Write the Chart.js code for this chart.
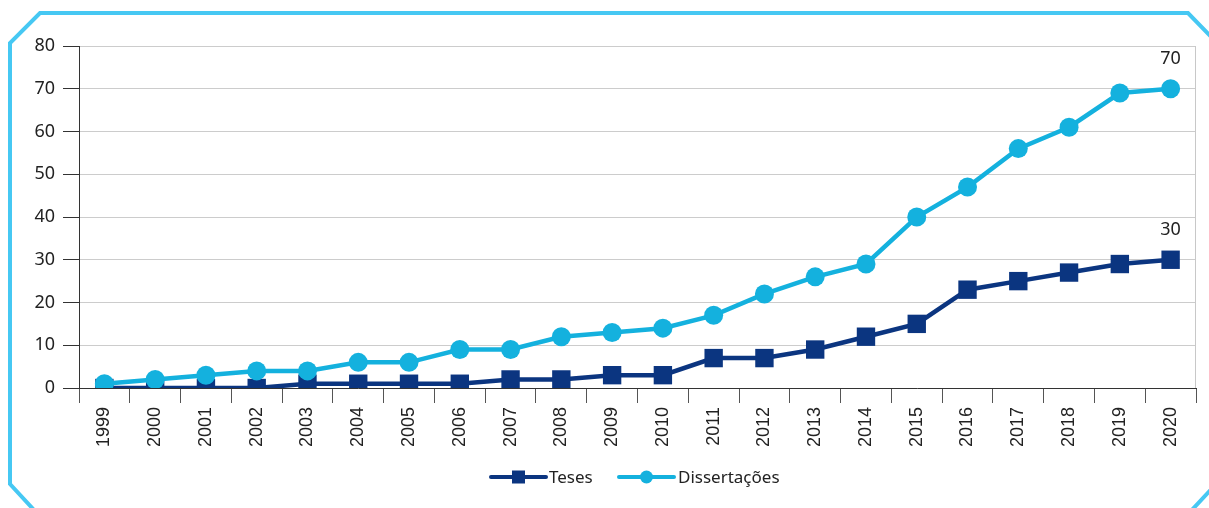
<!DOCTYPE html>
<html>
<head>
<meta charset="utf-8">
<script src="https://cdn.jsdelivr.net/npm/chart.js@4.4.1/dist/chart.umd.min.js"></script>
<style>
html,body{margin:0;padding:0;background:#fff;}
canvas{display:block;}
</style>
</head>
<body>
<canvas id="c" width="1209" height="508"></canvas>
<script>
const years = ['1999','2000','2001','2002','2003','2004','2005','2006','2007','2008','2009','2010','2011','2012','2013','2014','2015','2016','2017','2018','2019','2020'];
const teses = [0,0,0,0,1,1,1,1,2,2,3,3,7,7,9,12,15,23,25,27,29,30];
const dissertacoes = [1,2,3,4,4,6,6,9,9,12,13,14,17,22,26,29,40,47,56,61,69,70];
const yTicks = [0,10,20,30,40,50,60,70,80];
const seriesNames = ['Teses','Dissertações'];

const C_TESES = '#0B3580';
const C_DISS = '#14B1DE';
const C_FRAME = '#46C8F3';

const framePlugin = {
  id: 'frame',
  beforeDraw(chart) {
    const ctx = chart.ctx;
    ctx.save();
    ctx.strokeStyle = C_FRAME;
    ctx.lineWidth = 4;
    ctx.lineJoin = 'miter';
    ctx.beginPath();
    ctx.moveTo(34, 510);
    ctx.lineTo(10, 484);
    ctx.lineTo(10, 43);
    ctx.lineTo(40, 13);
    ctx.lineTo(1188, 13);
    ctx.lineTo(1218, 44);
    ctx.lineTo(1218, 482);
    ctx.lineTo(1190, 512);
    ctx.stroke();
    ctx.restore();
  },
  beforeDatasetsDraw(chart) {
    const ctx = chart.ctx;
    const a = chart.chartArea;
    ctx.save();
    ctx.strokeStyle = '#c8c8c8';
    ctx.lineWidth = 1;
    ctx.beginPath();
    ctx.moveTo(Math.round(a.right) - 0.5, a.top);
    ctx.lineTo(Math.round(a.right) - 0.5, a.bottom);
    ctx.stroke();
    ctx.restore();
  },
  afterDatasetsDraw(chart) {
    const ctx = chart.ctx;
    ctx.save();
    ctx.fillStyle = '#222';
    ctx.font = '18px "Noto Sans"';
    ctx.textAlign = 'center';
    ctx.textBaseline = 'alphabetic';
    chart.data.datasets.forEach((ds, i) => {
      const meta = chart.getDatasetMeta(i);
      const last = meta.data[meta.data.length - 1];
      ctx.fillText(String(ds.data[ds.data.length - 1]), last.x, last.y - 25);
    });
    // legend
    const ly = 477;
    const items = [
      {x0: 491, x1: 546, color: C_TESES, style: 'rect', label: seriesNames[0], tx: 549},
      {x0: 619, x1: 674, color: C_DISS, style: 'circle', label: seriesNames[1], tx: 678}
    ];
    ctx.textAlign = 'left';
    ctx.textBaseline = 'middle';
    ctx.font = '17px "Noto Sans"';
    items.forEach(it => {
      ctx.strokeStyle = it.color;
      ctx.lineWidth = 4;
      ctx.lineCap = 'round';
      ctx.beginPath();
      ctx.moveTo(it.x0, ly);
      ctx.lineTo(it.x1, ly);
      ctx.stroke();
      ctx.fillStyle = it.color;
      const cx = (it.x0 + it.x1) / 2;
      if (it.style === 'rect') {
        ctx.fillRect(cx - 6.5, ly - 6.5, 13, 13);
      } else {
        ctx.beginPath();
        ctx.arc(cx, ly, 6.5, 0, Math.PI * 2);
        ctx.fill();
      }
      ctx.fillStyle = '#222';
      ctx.fillText(it.label, it.tx, ly + 1);
    });
    ctx.restore();
  }
};

new Chart(document.getElementById('c'), {
  type: 'line',
  data: {
    labels: years,
    datasets: [
      {
        label: seriesNames[1],
        data: dissertacoes,
        borderColor: C_DISS,
        backgroundColor: C_DISS,
        borderWidth: 4.5,
        pointStyle: 'circle',
        pointRadius: 9.5,
        pointBorderWidth: 0,
        pointBackgroundColor: C_DISS,
        tension: 0,
        order: 0
      },
      {
        label: seriesNames[0],
        data: teses,
        borderColor: C_TESES,
        backgroundColor: C_TESES,
        borderWidth: 4.5,
        pointStyle: 'rect',
        pointRadius: 13,
        pointBorderWidth: 0,
        pointBackgroundColor: C_TESES,
        tension: 0,
        order: 1
      }
    ]
  },
  options: {
    responsive: false,
    animation: false,
    layout: { padding: { top: 46, right: 12, left: 0, bottom: 0 } },
    plugins: {
      legend: { display: false },
      tooltip: { enabled: false },
      title: { display: false }
    },
    scales: {
      x: {
        type: 'category',
        offset: true,
        grid: {
          offset: true,
          drawOnChartArea: false,
          drawTicks: true,
          tickLength: 15,
          tickColor: '#555',
          color: '#555'
        },
        border: { display: true, color: '#333', width: 1 },
        ticks: {
          color: '#222',
          font: { family: '"Liberation Sans", Arial', size: 18 },
          minRotation: 90,
          maxRotation: 90,
          padding: 4,
          autoSkip: false
        },
        afterFit(scale) { scale.height = 120; }
      },
      y: {
        min: 0,
        max: 80,
        afterBuildTicks(scale) { scale.ticks = yTicks.map(v => ({ value: v })); },
        grid: {
          color: '#cccccc',
          tickColor: '#333',
          tickLength: 16,
          lineWidth: 1
        },
        border: { display: true, color: '#333', width: 1 },
        ticks: {
          color: '#222',
          font: { family: '"Noto Sans"', size: 18 },
          padding: 8
        },
        afterFit(scale) { scale.width = 79; }
      }
    }
  },
  plugins: [framePlugin]
});
</script>
</body>
</html>
